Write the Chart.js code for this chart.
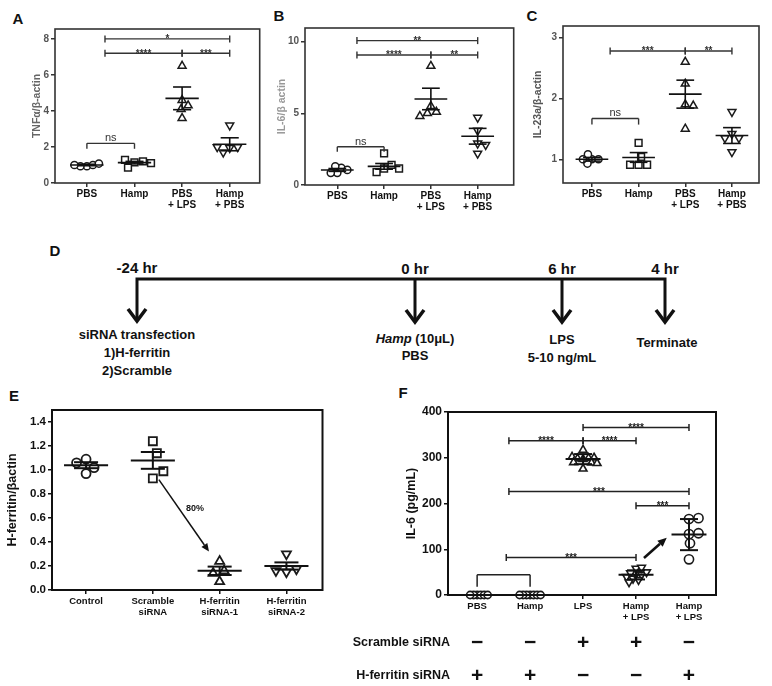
<!DOCTYPE html>
<html lang="en">
<head>
<meta charset="UTF-8">
<title>hepcidin figure</title>
<script src="https://cdn.jsdelivr.net/npm/chart.js@4.4.1/dist/chart.umd.min.js"></script>
<style>
  body { margin: 0; background: #fff; }
  #fig { position: relative; width: 772px; height: 686px; overflow: hidden; }
  #fig canvas, #fig svg { position: absolute; }
  svg text { font-family: 'Liberation Sans', Arial, sans-serif; font-weight: bold; fill: #111; }
</style>
</head>
<body>
<div id="fig">
  <svg width="772" height="686" style="left:0;top:0">
    <g font-size="15" text-anchor="middle">
      <text x="18" y="23.5">A</text>
      <text x="279" y="20.5">B</text>
      <text x="532" y="20.5">C</text>
      <text x="55" y="255.5">D</text>
      <text x="14" y="400.5">E</text>
      <text x="403" y="397.5">F</text>
    </g>
    <g stroke="#111" stroke-width="3" fill="none">
      <path d="M137,320 V279 H665 V320 M415,279 V320 M562,279 V320"/>
      <path stroke-width="3.5" d="M128,309 L137,321 L146,309 M406,310 L415,322 L424,310 M553,310 L562,322 L571,310 M656,310 L665,322 L674,310"/>
    </g>
    <g font-size="15" text-anchor="middle">
      <text x="137" y="273">-24 hr</text>
      <text x="415" y="274">0 hr</text>
      <text x="562" y="274">6 hr</text>
      <text x="665" y="274">4 hr</text>
    </g>
    <g font-size="13" text-anchor="middle">
      <text x="137" y="339">siRNA transfection</text>
      <text x="137" y="357">1)H-ferritin</text>
      <text x="137" y="375">2)Scramble</text>
      <text x="415" y="343"><tspan font-style="italic">Hamp</tspan> (10μL)</text>
      <text x="415" y="360">PBS</text>
      <text x="562" y="344">LPS</text>
      <text x="562" y="362">5-10 ng/mL</text>
      <text x="667" y="347">Terminate</text>
    </g>
  </svg>
  <canvas id="cA"></canvas>
  <canvas id="cB"></canvas>
  <canvas id="cC"></canvas>
  <canvas id="cE"></canvas>
  <canvas id="cF"></canvas>
</div>
<script>
// ---- data ----
const groupsABC = [['PBS'], ['Hamp'], ['PBS', '+ LPS'], ['Hamp', '+ PBS']];

const tnfTicks = [0, 2, 4, 6, 8];
const tnfValues = [
  [0.93, 1.0, 0.93, 1.08, 1.0],
  [1.15, 1.2, 0.85, 1.28, 1.1],
  [6.5, 4.6, 4.3, 4.1, 3.6],
  [3.2, 1.95, 2.0, 1.7, 2.0]
];
const tnfMean = [1.0, 1.13, 4.7, 2.15];
const tnfSem = [0.04, 0.07, 0.63, 0.36];
const tnfSig = [[0.38, 3, 8.0, '*'], [0.38, 2, 7.2, '****'], [2, 3, 7.2, '***'], [0, 1, 2.2, 'ns', 1.9]];

const il6Ticks = [0, 5, 10];
const il6Values = [
  [0.85, 1.2, 0.85, 1.3, 1.05],
  [1.15, 1.4, 0.9, 1.15, 2.2],
  [8.3, 5.5, 5.1, 5.0, 4.8],
  [4.7, 3.8, 2.9, 2.8, 2.2]
];
const il6Mean = [1.05, 1.3, 6.0, 3.4];
const il6Sem = [0.1, 0.2, 0.75, 0.55];
const il6Sig = [[0.42, 3, 10.07, '**'], [0.42, 2, 9.07, '****'], [2, 3, 9.07, '**'], [0, 1, 2.67, 'ns', 2.32]];

const il23Ticks = [1, 2, 3];
const il23Values = [
  [1.0, 1.0, 0.93, 1.08, 1.0],
  [0.91, 0.91, 0.91, 1.04, 1.27],
  [2.6, 2.24, 1.9, 1.88, 1.5],
  [1.78, 1.42, 1.35, 1.35, 1.12]
];
const il23Mean = [1.0, 1.03, 2.07, 1.39];
const il23Sem = [0.03, 0.08, 0.23, 0.13];
const il23Sig = [[0.39, 2, 2.78, '***'], [2, 3, 2.78, '**'], [0, 1, 1.67, 'ns', 1.57]];

const ferritinGroups = [['Control'], ['Scramble', 'siRNA'], ['H-ferritin', 'siRNA-1'], ['H-ferritin', 'siRNA-2']];
const ferritinTicks = [0, 0.2, 0.4, 0.6, 0.8, 1.0, 1.2, 1.4];
const ferritinValues = [
  [1.09, 0.97, 1.02, 1.06],
  [1.24, 0.93, 1.14, 0.99],
  [0.24, 0.07, 0.16, 0.14],
  [0.30, 0.15, 0.175, 0.16]
];
const ferritinMean = [1.04, 1.08, 0.16, 0.2];
const ferritinSem = [0.025, 0.07, 0.035, 0.03];
const ferritinArrow = [[1.09, 0.92, 1.84, 0.32]];
const ferritinNote = [[1.63, 0.68, '80%']];

const fGroups = [['PBS'], ['Hamp'], ['LPS'], ['Hamp', '+ LPS'], ['Hamp', '+ LPS']];
const fTicks = [0, 100, 200, 300, 400];
const fValues = [
  [0, 0, 0, 0, 0, 0],
  [0, 0, 0, 0, 0, 0, 0],
  [297, 299, 298, 300, 302, 317, 290, 289, 288, 276],
  [46, 44, 48, 40, 50, 58, 60, 36, 33, 28],
  [133, 135, 166, 168, 113, 78]
];
const fMean = [0, 0, 297, 44, 132];
const fSd = [0, 0, 11, 10, 34];
const fSig = [[2, 4, 366, '****'], [0.6, 2, 337, '****'], [2, 3, 337, '****'], [0.6, 4, 226, '***'],
              [3, 4, 195, '***'], [0.55, 3, 82, '***'], [0, 1, 44, '', 18]];
const fArrow = [[3.15, 81, 3.58, 125]];
const rowLabels = ['Scramble siRNA', 'H-ferritin siRNA'];
const scrambleSigns = ['−', '−', '+', '+', '−'];
const ferritinSigns = ['+', '+', '−', '−', '+'];

// ---- drawing helpers ----
const FONT = "'Liberation Sans', Arial, sans-serif";

function hl(ctx, x1, x2, y) { ctx.beginPath(); ctx.moveTo(x1, y); ctx.lineTo(x2, y); ctx.stroke(); }
function vl(ctx, x, y1, y2) { ctx.beginPath(); ctx.moveTo(x, y1); ctx.lineTo(x, y2); ctx.stroke(); }

function arrow(ctx, x1, y1, x2, y2, w, h) {
  const a = Math.atan2(y2 - y1, x2 - x1);
  const bx = x2 - h * Math.cos(a), by = y2 - h * Math.sin(a);
  ctx.lineWidth = w;
  ctx.beginPath(); ctx.moveTo(x1, y1); ctx.lineTo(bx, by); ctx.stroke();
  ctx.beginPath();
  ctx.moveTo(x2, y2);
  ctx.lineTo(bx + h * 0.45 * Math.sin(a), by - h * 0.45 * Math.cos(a));
  ctx.lineTo(bx - h * 0.45 * Math.sin(a), by + h * 0.45 * Math.cos(a));
  ctx.closePath(); ctx.fill();
}

function overlay(p) {
  return {
    id: 'overlay',
    beforeDatasetsDraw(chart) {
      const {ctx, chartArea: a} = chart;
      ctx.save();
      ctx.strokeStyle = p.ink; ctx.lineWidth = p.frame;
      ctx.strokeRect(a.left, a.top, a.right - a.left, a.bottom - a.top);
      ctx.restore();
    },
    afterDatasetsDraw(chart) {
      const {ctx, scales: {x, y}} = chart;
      ctx.save();
      ctx.strokeStyle = '#111'; ctx.fillStyle = '#111';
      ctx.lineWidth = p.meanWidth;
      p.mean.forEach((m, g) => {
        hl(ctx, x.getPixelForValue(g - p.meanHalf), x.getPixelForValue(g + p.meanHalf), y.getPixelForValue(m));
        if (!p.err[g]) return;
        const yt = y.getPixelForValue(m + p.err[g]), yb = y.getPixelForValue(m - p.err[g]);
        const e1 = x.getPixelForValue(g - p.errHalf), e2 = x.getPixelForValue(g + p.errHalf);
        hl(ctx, e1, e2, yt); hl(ctx, e1, e2, yb);
        vl(ctx, x.getPixelForValue(g), yt, yb);
      });

      ctx.lineWidth = p.sigWidth; ctx.strokeStyle = p.sigInk; ctx.fillStyle = p.sigInk;
      ctx.textAlign = 'center'; ctx.textBaseline = 'alphabetic';
      p.sig.forEach(([x1, x2, v, label, drop]) => {
        const px1 = x.getPixelForValue(x1), px2 = x.getPixelForValue(x2), py = y.getPixelForValue(v);
        hl(ctx, px1, px2, py);
        if (drop !== undefined) {
          const pd = y.getPixelForValue(drop);
          vl(ctx, px1, py, pd); vl(ctx, px2, py, pd);
          ctx.font = `${p.nsSize}px ${FONT}`;
          ctx.fillText(label, (px1 + px2) / 2, py - 2);
        } else {
          vl(ctx, px1, py - p.cap, py + p.cap); vl(ctx, px2, py - p.cap, py + p.cap);
          ctx.font = `bold ${p.starSize}px ${FONT}`;
          ctx.fillText(label, (px1 + px2) / 2, py + p.starDrop);
        }
      });

      ctx.strokeStyle = '#111'; ctx.fillStyle = '#111';
      (p.arrows || []).forEach(([x1, y1, x2, y2]) =>
        arrow(ctx, x.getPixelForValue(x1), y.getPixelForValue(y1), x.getPixelForValue(x2), y.getPixelForValue(y2), p.arrowWidth, p.arrowHead));
      (p.notes || []).forEach(([nx, ny, t]) => {
        ctx.font = `bold 9px ${FONT}`; ctx.textBaseline = 'middle';
        ctx.fillText(t, x.getPixelForValue(nx), y.getPixelForValue(ny));
      });

      if (p.rows) {
        p.rows.labels.forEach((lab, r) => {
          const ry = p.rows.y[r];
          ctx.textBaseline = 'middle';
          ctx.textAlign = 'right'; ctx.font = `bold 12.5px ${FONT}`;
          ctx.fillText(lab, p.rows.labelX, ry);
          ctx.textAlign = 'center'; ctx.font = `bold 21px ${FONT}`;
          p.rows.signs[r].forEach((s, g) => ctx.fillText(s, x.getPixelForValue(g), ry));
        });
      }
      ctx.restore();
    }
  };
}

// spread points of a group sideways so markers do not sit on top of each other
function swarm(chart) {
  const xs = chart.scales.x, ys = chart.scales.y;
  chart.data.datasets.forEach(ds => {
    const cx = xs.getPixelForValue(ds.group);
    const dmin = 2 * ds.pointRadius * ds.gap;
    const placed = [];
    ds.data = ds.vals.map(v => {
      const py = ys.getPixelForValue(v);
      let px = cx;
      for (let k = 0; k < 400; k++) {
        px = cx + Math.ceil(k / 2) * 0.5 * (k % 2 ? 1 : -1);
        if (placed.every(q => Math.hypot(q[0] - px, q[1] - py) >= dmin)) break;
      }
      placed.push([px, py]);
      return {x: xs.getValueForPixel(px), y: v};
    });
  });
  chart.update('none');
}

function panel(id, p) {
  const cv = document.getElementById(id);
  cv.width = p.box.w; cv.height = p.box.h;
  cv.style.left = p.box.left + 'px'; cv.style.top = p.box.top + 'px';
  const tick = {display: true, drawOnChartArea: false, drawTicks: true, tickLength: 4, color: p.ink, lineWidth: 1.5};
  const chart = new Chart(cv, {
    type: 'scatter',
    data: {
      datasets: p.values.map((vals, g) => ({
        vals, group: g, gap: p.gap[g],
        data: vals.map(v => ({x: g, y: v})),
        pointStyle: p.shapes[g], pointRotation: p.rot[g],
        pointRadius: p.radius[g], pointHoverRadius: p.radius[g],
        pointBorderWidth: p.pointWidth, pointBorderColor: '#1a1a1a', pointBackgroundColor: '#fff',
        clip: false
      }))
    },
    options: {
      responsive: false, animation: false, events: [],
      layout: {padding: {top: p.area.t - p.box.top, right: p.box.left + p.box.w - p.area.r, bottom: 0, left: 0}},
      plugins: {legend: {display: false}, tooltip: {enabled: false}},
      scales: {
        x: {
          type: 'linear', min: p.xMin, max: p.xMax,
          afterBuildTicks: s => { s.ticks = p.groups.map((c, i) => ({value: i})); },
          afterFit: s => { s.height = p.box.top + p.box.h - p.area.b; },
          grid: tick, border: {display: false},
          ticks: {callback: v => p.groups[v], color: '#111', padding: p.xPad, maxRotation: 0, autoSkip: false,
                  font: {family: FONT, size: p.xSize, weight: 'bold', lineHeight: 1.15}}
        },
        y: {
          min: p.yMin, max: p.yMax,
          afterBuildTicks: s => { s.ticks = p.yTicks.map(v => ({value: v})); },
          afterFit: s => { s.width = p.area.l - p.box.left; },
          grid: tick, border: {display: false},
          ticks: {callback: v => v.toFixed(p.decimals), color: p.tickInk, padding: 2,
                  font: {family: FONT, size: p.ySize, weight: 'bold'}},
          title: {display: true, text: p.yTitle, color: p.titleInk,
                  font: {family: FONT, size: p.titleSize, weight: 'bold'},
                  padding: {top: p.titleX - p.box.left - p.titleSize * 0.6, bottom: 0}}
        }
      }
    },
    plugins: [overlay(p)]
  });
  swarm(chart);
  return chart;
}

const abcStyle = {
  groups: groupsABC, shapes: ['circle', 'rect', 'triangle', 'triangle'], rot: [0, 0, 0, 180],
  radius: [3.6, 4.8, 4.6, 4.6], gap: [0.85, 0.85, 0.85, 0.85], pointWidth: 1.5,
  ink: '#333', tickInk: '#555', frame: 1.6, xSize: 10, xPad: 1, ySize: 10, titleSize: 10.5, decimals: 0,
  meanWidth: 1.6, meanHalf: 0.35, errHalf: 0.19,
  sigWidth: 1.4, sigInk: '#333', cap: 3.5, starSize: 10, starDrop: 3.5, nsSize: 11
};

panel('cA', Object.assign({}, abcStyle, {
  box: {left: 0, top: 0, w: 266, h: 222}, area: {l: 55, t: 29, r: 260, b: 183}, titleX: 37,
  xMin: -0.67, xMax: 3.63, yMin: 0, yMax: 8.55, yTicks: tnfTicks,
  values: tnfValues, mean: tnfMean, err: tnfSem, sig: tnfSig,
  yTitle: 'TNFα/β-actin', titleInk: '#666'
}));

panel('cB', Object.assign({}, abcStyle, {
  box: {left: 262, top: 0, w: 258, h: 222}, area: {l: 305, t: 28, r: 517, b: 185}, titleX: 282,
  xMin: -0.69, xMax: 3.77, yMin: 0, yMax: 10.95, yTicks: il6Ticks,
  values: il6Values, mean: il6Mean, err: il6Sem, sig: il6Sig,
  yTitle: 'IL-6/β actin', titleInk: '#999'
}));

panel('cC', Object.assign({}, abcStyle, {
  box: {left: 518, top: 0, w: 254, h: 222}, area: {l: 563, t: 26, r: 759, b: 183}, titleX: 538,
  xMin: -0.62, xMax: 3.58, yMin: 0.61, yMax: 3.19, yTicks: il23Ticks,
  values: il23Values, mean: il23Mean, err: il23Sem, sig: il23Sig,
  yTitle: 'IL-23a/β-actin', titleInk: '#555'
}));

panel('cE', {
  box: {left: 0, top: 385, w: 330, h: 240}, area: {l: 52, t: 410, r: 323, b: 590}, titleX: 13,
  groups: ferritinGroups, xMin: -0.51, xMax: 3.54, yMin: 0, yMax: 1.5, yTicks: ferritinTicks, decimals: 1,
  values: ferritinValues, mean: ferritinMean, err: ferritinSem, sig: [],
  arrows: ferritinArrow, notes: ferritinNote, arrowWidth: 1.5, arrowHead: 8,
  shapes: ['circle', 'rect', 'triangle', 'triangle'], rot: [0, 0, 0, 180],
  radius: [4.5, 5.7, 5.2, 5.2], gap: [1.1, 1.1, 1.0, 1.0], pointWidth: 1.8,
  ink: '#111', tickInk: '#111', frame: 2, xSize: 9.5, xPad: 2, ySize: 11.5, titleSize: 12.5,
  yTitle: 'H-ferritin/βactin', titleInk: '#111',
  meanWidth: 2, meanHalf: 0.33, errHalf: 0.18,
  sigWidth: 1.5, sigInk: '#111', cap: 3.5, starSize: 10, starDrop: 3.5, nsSize: 11
});

panel('cF', {
  box: {left: 330, top: 385, w: 442, h: 301}, area: {l: 448, t: 412, r: 716, b: 595}, titleX: 412,
  groups: fGroups, xMin: -0.55, xMax: 4.51, yMin: 0, yMax: 400, yTicks: fTicks, decimals: 0,
  values: fValues, mean: fMean, err: fSd, sig: fSig,
  arrows: fArrow, arrowWidth: 2.5, arrowHead: 9,
  rows: {labels: rowLabels, signs: [scrambleSigns, ferritinSigns], y: [258, 291], labelX: 120},
  shapes: ['circle', 'circle', 'triangle', 'triangle', 'circle'], rot: [0, 0, 0, 180, 0],
  radius: [3.6, 3.6, 4.5, 4.5, 4.6], gap: [0.45, 0.45, 0.6, 0.6, 1.0], pointWidth: 1.6,
  ink: '#111', tickInk: '#111', frame: 2, xSize: 9.5, xPad: 2, ySize: 12, titleSize: 12.5,
  yTitle: 'IL-6 (pg/mL)', titleInk: '#111',
  meanWidth: 2, meanHalf: 0.33, errHalf: 0.17,
  sigWidth: 1.5, sigInk: '#222', cap: 3.5, starSize: 10, starDrop: 3.5, nsSize: 11
});
</script>
</body>
</html>
